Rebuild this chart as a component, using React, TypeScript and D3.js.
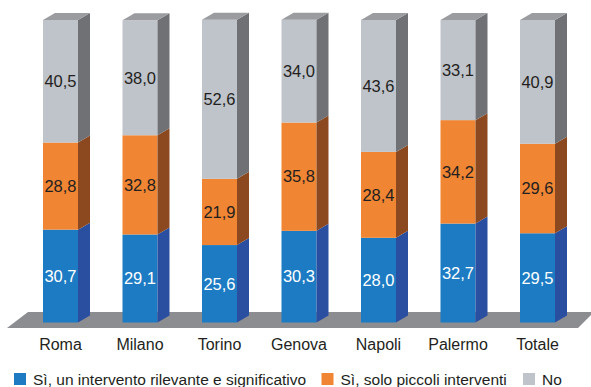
import React from "react";
import * as d3 from "d3";

const categories = ["Roma", "Milano", "Torino", "Genova", "Napoli", "Palermo", "Totale"];
const siRilevante = [30.7, 29.1, 25.6, 30.3, 28.0, 32.7, 29.5];
const siPiccoli = [28.8, 32.8, 21.9, 35.8, 28.4, 34.2, 29.6];
const no = [40.5, 38.0, 52.6, 34.0, 43.6, 33.1, 40.9];
const seriesNames = [
  "Sì, un intervento rilevante e significativo",
  "Sì, solo piccoli interventi",
  "No",
];

const W = 591;
const H = 387;
const DX = 12;
const DY = 7;
const FONT = "'Liberation Sans', Arial, sans-serif";

const styles = [
  { front: "#1c7bc3", side: "#2b4fa0", top: "#2b63b0", text: "#ffffff" },
  { front: "#f08533", side: "#8c491f", top: "#c0682a", text: "#231f20" },
  { front: "#bfc3ca", side: "#707175", top: "#9b9ca0", text: "#231f20" },
];

export default function App() {
  const x = d3
    .scaleBand<string>()
    .domain(categories)
    .range([20.75, 577.25])
    .paddingInner(1 - 35 / 79.5)
    .paddingOuter((1 - 35 / 79.5) / 2);
  const y = d3.scaleLinear().domain([0, 100]).range([322.5, 20]);
  const bw = x.bandwidth();

  const data = categories.map((c, i) => ({ c, vals: [siRilevante[i], siPiccoli[i], no[i]] }));
  const stack = d3
    .stack<any>()
    .keys(["0", "1", "2"])
    .value((d: any, k: string) => d.vals[+k]);
  const stacked = stack(data);

  const floor = `M7,328 L28,312 L594,312 L578,328 Z`;

  return (
    <svg
      width={W}
      height={H}
      style={{ position: "absolute", left: 0, top: 0, background: "#fff" }}
      fontFamily={FONT}
    >
      <path d={floor} fill="#8c8d91" />
      {data.map((d, i) => {
        const x0 = x(d.c)!;
        const x1 = x0 + bw;
        return (
          <g key={d.c}>
            {stacked.map((s, k) => {
              const y0 = y(s[i][0]);
              const y1 = y(s[i][1]);
              const st = styles[k];
              const isTop = k === stacked.length - 1;
              return (
                <g key={k}>
                  <rect x={x0} y={y1} width={bw} height={y0 - y1} fill={st.front} />
                  <path
                    d={`M${x1},${y0} L${x1 + DX},${y0 - DY} L${x1 + DX},${y1 - DY} L${x1},${y1} Z`}
                    fill={st.side}
                  />
                  {isTop && (
                    <path
                      d={`M${x0},${y1} L${x0 + DX},${y1 - DY} L${x1 + DX},${y1 - DY} L${x1},${y1} Z`}
                      fill={st.top}
                    />
                  )}
                  <text
                    x={x0 + bw / 2}
                    y={(y0 + y1) / 2}
                    dy="0.35em"
                    textAnchor="middle"
                    fontSize={16.5}
                    fill={st.text}
                  >
                    {d.vals[k].toFixed(1).replace(".", ",")}
                  </text>
                </g>
              );
            })}
            <text x={x0 + bw / 2} y={349.5} textAnchor="middle" fontSize={16} fill="#231f20">
              {d.c}
            </text>
          </g>
        );
      })}
      {seriesNames.map((n, k) => {
        const lx = [14, 321.5, 523][k];
        return (
          <g key={n}>
            <rect x={lx} y={373} width={12} height={12} fill={styles[k].front} />
            <text x={lx + 19} y={384.5} fontSize={15.5} fill="#231f20">
              {n}
            </text>
          </g>
        );
      })}
    </svg>
  );
}
